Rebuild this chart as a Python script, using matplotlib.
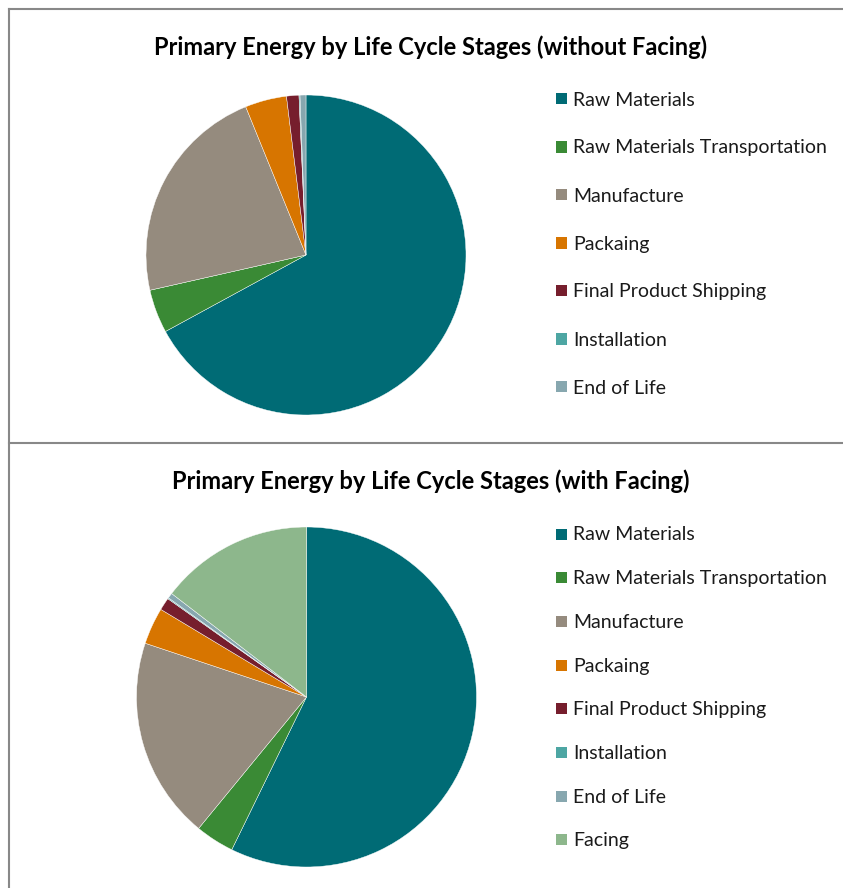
"""
Primary energy by life cycle stages: two pies, without and with facing.
"""

import matplotlib.pyplot as plt
from matplotlib.lines import Line2D
from matplotlib.patches import Rectangle

# Данные (доли, %)
stages = ['Raw Materials', 'Raw Materials Transportation', 'Manufacture',
          'Packaing', 'Final Product Shipping', 'Installation', 'End of Life']
stages_facing = stages + ['Facing']

share_without = [67.1, 4.4, 22.4, 4.2, 1.25, 0.1, 0.6]
share_with = [57.3, 3.7, 19.2, 3.5, 1.2, 0.1, 0.5, 14.6]

colors = ['#006B75', '#3A8A35', '#958B7E', '#D77500', '#761E2D',
          '#4DA6A3', '#87A7AF', '#8DB78C']

W, H = 843, 888
FONT = 'Lato'

fig = plt.figure(figsize=(W / 100, H / 100), dpi=100)


def px_axes(cx, cy, r):
    """Оси в пикселях (от верхнего левого угла)."""
    return fig.add_axes([(cx - r) / W, (H - cy - r) / H, 2 * r / W, 2 * r / H])


def draw_panel(title, labels, values, cx, cy, r, title_y, leg_y0, leg_dy):
    ax = px_axes(cx, cy, r)
    ax.pie(values, colors=colors[:len(values)], startangle=90, counterclock=False,
           wedgeprops=dict(edgecolor='white', linewidth=0.3))
    ax.set_xlim(-1, 1)
    ax.set_ylim(-1, 1)
    ax.set_aspect('equal')

    fig.text(431 / W, 1 - title_y / H, title, ha='center', va='center',
             fontsize=17, fontweight='bold', family=FONT)

    # Легенда
    for i, lab in enumerate(labels):
        y = leg_y0 + i * leg_dy
        fig.patches.append(Rectangle((556 / W, 1 - (y + 5.5) / H), 11 / W, 11 / H,
                                     transform=fig.transFigure, facecolor=colors[i],
                                     edgecolor='none'))
        fig.text(573 / W, 1 - (y + 1) / H, lab, ha='left', va='center',
                 fontsize=14, family=FONT, color='#1a1a1a')


draw_panel('Primary Energy by Life Cycle Stages (without Facing)', stages, share_without,
           306, 255, 160, 47, 99, 48)
draw_panel('Primary Energy by Life Cycle Stages (with Facing)', stages_facing, share_with,
           306.5, 697, 170, 481, 534, 43.7)

# Рамки
border = dict(color='#888888', linewidth=1.5, transform=fig.transFigure)
fig.add_artist(Line2D([9 / W, 9 / W], [0, 1 - 9 / H], **border))
fig.add_artist(Line2D([9 / W, 1], [1 - 9.5 / H, 1 - 9.5 / H], **border))
fig.add_artist(Line2D([9 / W, 1], [1 - 443 / H, 1 - 443 / H], **border))

plt.savefig('out.png', dpi=100)
